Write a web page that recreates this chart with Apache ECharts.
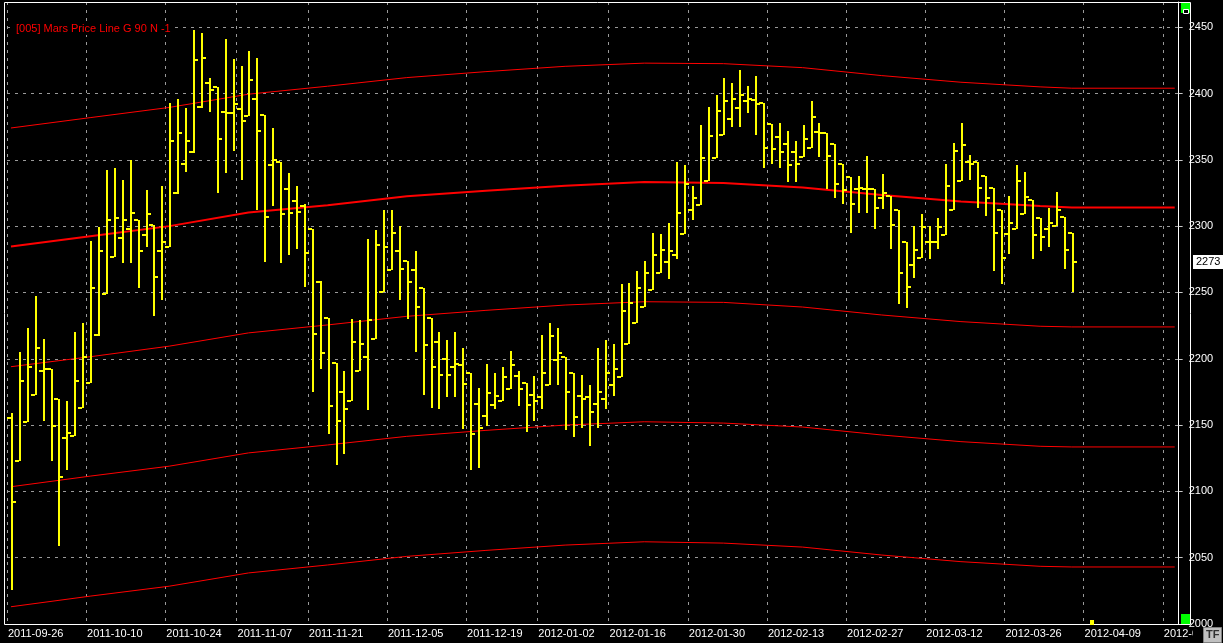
<!DOCTYPE html>
<html><head><meta charset="utf-8">
<script src="https://cdn.jsdelivr.net/npm/echarts@6/dist/echarts.min.js"></script>
<style>html,body{margin:0;padding:0;background:#000;}#c{width:1223px;height:643px;}</style>
</head><body><div id="c"></div>
<script>
// ---- axis data ----
const startDate = '2011-09-26';
const endDate = '2012-04-24';
const holidays = ['2011-10-31','2011-11-11','2011-12-26','2012-01-02'];
const tickLabels = ['2011-09-26','2011-10-10','2011-10-24','2011-11-07','2011-11-21','2011-12-05',
  '2011-12-19','2012-01-02','2012-01-16','2012-01-30','2012-02-13','2012-02-27','2012-03-12',
  '2012-03-26','2012-04-09','2012-04-23'];
const yTicks = [2000, 2469, 50];

// ---- OHLC series values (one per trading bar) ----
const opens = [2155,2123,2152,2173,2191,2192,2170,2140,2142,2163,2182,2218,2249,2277,2291,2298,2305,2293,2301,2281,
  2284,2325,2347,2356,2390,2408,2405,2386,2385,2388,2383,2396,2384,2346,2348,2328,2319,2315,2298,2258,
  2231,2197,2175,2168,2191,2201,2215,2250,2267,2281,2274,2267,2253,2231,2213,2200,2194,2195,2189,2166,
  2157,2165,2168,2177,2187,2182,2173,2171,2180,2199,2201,2189,2172,2171,2166,2170,2180,2186,2211,2227,
  2239,2252,2265,2273,2278,2294,2312,2316,2334,2351,2369,2381,2389,2394,2395,2393,2377,2367,2362,2356,
  2352,2359,2371,2370,2362,2347,2337,2328,2328,2328,2321,2323,2312,2288,2271,2276,2288,2288,2293,2312,
  2334,2348,2348,2338,2329,2312,2294,2298,2309,2320,2306,2298,2300,2307,2295];
const highs = [2159,2205,2223,2247,2215,2192,2170,2168,2220,2227,2289,2299,2342,2344,2335,2350,2305,2327,2301,2330,
  2393,2396,2389,2448,2446,2412,2405,2441,2426,2421,2432,2427,2384,2374,2348,2340,2330,2317,2298,2259,
  2231,2197,2191,2230,2229,2290,2297,2312,2312,2300,2274,2281,2253,2231,2220,2214,2220,2208,2189,2178,
  2196,2189,2194,2206,2191,2182,2187,2218,2227,2223,2201,2189,2188,2180,2208,2214,2211,2256,2257,2266,
  2274,2295,2294,2302,2348,2346,2330,2376,2390,2399,2412,2408,2418,2406,2413,2393,2377,2378,2372,2364,
  2376,2394,2378,2370,2362,2347,2337,2338,2353,2328,2339,2323,2312,2288,2300,2309,2300,2306,2347,2363,
  2378,2354,2348,2338,2329,2312,2323,2346,2341,2320,2306,2314,2326,2307,2295];
const lows = [2026,2123,2152,2173,2153,2123,2059,2116,2142,2163,2182,2217,2249,2277,2272,2272,2253,2284,2232,2244,
  2284,2324,2341,2355,2389,2386,2325,2340,2357,2335,2383,2312,2273,2315,2272,2278,2283,2254,2175,2192,
  2143,2120,2128,2168,2191,2161,2215,2250,2267,2244,2230,2205,2173,2163,2162,2171,2171,2147,2116,2118,
  2149,2162,2168,2177,2164,2145,2153,2162,2180,2180,2146,2141,2148,2134,2148,2162,2172,2186,2211,2227,
  2239,2252,2265,2260,2275,2294,2305,2316,2334,2351,2369,2375,2375,2385,2369,2344,2347,2344,2333,2333,
  2352,2359,2352,2328,2321,2317,2295,2310,2310,2298,2313,2283,2241,2238,2261,2276,2275,2283,2293,2312,
  2334,2335,2314,2308,2266,2256,2279,2298,2309,2275,2281,2284,2300,2268,2250];
const closes = [2092,2183,2194,2208,2192,2149,2111,2144,2183,2201,2253,2281,2305,2306,2305,2310,2281,2309,2262,2288,
  2364,2370,2364,2425,2427,2403,2366,2385,2392,2379,2410,2372,2307,2350,2309,2310,2311,2280,2219,2204,
  2164,2153,2162,2213,2211,2229,2286,2284,2295,2268,2258,2239,2210,2194,2188,2188,2196,2181,2143,2148,
  2174,2172,2186,2195,2177,2165,2168,2189,2217,2204,2175,2156,2170,2160,2175,2189,2192,2236,2242,2253,
  2265,2278,2282,2281,2310,2332,2321,2351,2368,2387,2394,2396,2399,2396,2392,2359,2358,2356,2346,2347,
  2366,2382,2370,2353,2332,2327,2317,2329,2328,2314,2325,2301,2265,2254,2282,2299,2288,2299,2330,2357,
  2361,2347,2329,2321,2295,2276,2302,2334,2322,2293,2292,2302,2312,2282,2273];

// ---- Mars price lines (sampled at bar indices) ----
const lineIdx   = [0,10,20,30,40,50,60,70,80,90,100,110,120,130,134,147];
const lineUp1   = [2374,2381.8,2389.5,2399.5,2405.5,2412,2416.5,2420.5,2422.9,2422.5,2419.5,2413.5,2408.5,2405,2404,2404];
const lineMid   = [2284.7,2292.4,2300,2310.2,2315.8,2322.5,2326.6,2330.5,2333.2,2332.5,2329.2,2323.5,2318.6,2315.1,2314.1,2314.1];
const lineDn1   = [2194,2201.5,2209.5,2219.5,2225.5,2232,2236.5,2240.5,2243,2242.5,2239,2233,2228,2224.5,2224,2224];
const lineDn2   = [2103.5,2111.5,2119,2129,2135,2141.5,2146,2150,2152.5,2151.5,2148.5,2142.5,2137.5,2134,2133.5,2133.5];
const lineDn3   = [2013,2021,2028.5,2038.5,2044.5,2051,2055.5,2059.5,2062,2061,2058,2052,2047,2043.5,2043,2043];

const titleText = '[005] Mars Price Line G 90 N -1';

// ---- build categories (trading days) ----
function fmt(d){ return d.toISOString().slice(0,10); }
const categories = [], weekStart = [];
for (let d = new Date(startDate + 'T00:00:00Z'); fmt(d) <= endDate; d.setUTCDate(d.getUTCDate()+1)) {
  const wd = d.getUTCDay();
  if (wd === 0 || wd === 6) continue;
  const s = fmt(d);
  if (holidays.includes(s)) continue;
  const m = new Date(d); m.setUTCDate(m.getUTCDate() - (wd - 1));
  categories.push(s); weekStart.push(fmt(m));
}
const labelAt = new Set();
const seenWeek = new Set();
categories.forEach((c, i) => {
  const w = weekStart[i];
  if (!seenWeek.has(w)) { seenWeek.add(w); if (tickLabels.includes(w)) labelAt.add(i); }
});

const ohlc = opens.map((o, i) => [i, o, highs[i], lows[i], closes[i]]);
const mk = arr => lineIdx.map((x, i) => [x, arr[i]]);
const lastClose = closes[closes.length - 1];

const FONT = 'Liberation Sans';
const chart = echarts.init(document.getElementById('c'), null, {renderer: 'canvas'});
const redLine = (name, arr, w) => ({
  type: 'line', name, data: mk(arr), showSymbol: false, symbol: 'none', silent: true,
  lineStyle: {color: '#ff0000', width: w}, z: 3, animation: false
});

chart.setOption({
  backgroundColor: '#000000',
  animation: false,
  grid: {left: 7, right: 32, top: 2, bottom: 19, containLabel: false},
  xAxis: {
    type: 'category', data: categories, boundaryGap: true,
    axisLine: {show: true, lineStyle: {color: '#ffffff', width: 1}},
    axisTick: {show: false},
    axisLabel: {
      interval: (i) => labelAt.has(i), formatter: (v, i) => weekStart[i],
      color: '#ffffff', fontSize: 11, fontFamily: FONT, align: 'left', margin: 4,
      padding: [0, 0, 0, -3]
    },
    splitLine: {show: true, interval: (i) => labelAt.has(i),
      lineStyle: {color: '#9a9a9a', type: [3, 5], width: 1}}
  },
  yAxis: {
    type: 'value', position: 'right', min: yTicks[0], max: yTicks[1], interval: yTicks[2],
    axisLine: {show: true, lineStyle: {color: '#ffffff'}},
    axisTick: {show: true, length: 4, lineStyle: {color: '#c8c8c8'}},
    axisLabel: {color: '#ffffff', fontSize: 11, fontFamily: FONT, margin: 10,
      showMaxLabel: false, formatter: v => String(v)},
    splitLine: {show: true, lineStyle: {color: '#9a9a9a', type: [3, 5], width: 1}}
  },
  series: [
    redLine('up1', lineUp1, 1),
    redLine('mid', lineMid, 2),
    redLine('dn1', lineDn1, 1),
    redLine('dn2', lineDn2, 1),
    redLine('dn3', lineDn3, 1),
    {
      type: 'custom', name: 'price', data: ohlc, z: 4, animation: false,
      encode: {x: 0, y: [1, 2, 3, 4]},
      renderItem: function (params, api) {
        const i = api.value(0);
        const o = api.coord([i, api.value(1)]);
        const h = api.coord([i, api.value(2)]);
        const l = api.coord([i, api.value(3)]);
        const c = api.coord([i, api.value(4)]);
        const cx = Math.round(o[0]);
        const col = '#ffff00';
        const hy = Math.round(h[1]), ly = Math.round(l[1]);
        return {type: 'group', children: [
          {type: 'rect', shape: {x: cx, y: hy, width: 2, height: Math.max(2, ly - hy)}, style: {fill: col}},
          {type: 'rect', shape: {x: cx - 4, y: Math.round(o[1]) - 1, width: 4, height: 2}, style: {fill: col}},
          {type: 'rect', shape: {x: cx + 2, y: Math.round(c[1]) - 1, width: 3, height: 2}, style: {fill: col}}
        ]};
      }
    }
  ]
});

// last-price tag and decorations, placed through the axis scale
const py = Math.round(chart.convertToPixel({yAxisIndex: 0}, lastClose));
chart.setOption({
  graphic: [
    {type: 'rect', z: 100, shape: {x: 4.5, y: 2.5, width: 1186, height: 622}, style: {fill: 'none', stroke: '#ffffff', lineWidth: 1}},
    {type: 'text', z: 100, left: 15, top: 22, style: {text: titleText, fill: '#ff0000', font: '11px "Liberation Sans"', backgroundColor: '#000000', padding: [1, 1]}},
    {type: 'rect', z: 100, shape: {x: 1181, y: 3, width: 9, height: 10}, style: {fill: '#00ff00'}},
    {type: 'rect', z: 101, shape: {x: 1183.5, y: 9.5, width: 5, height: 4}, style: {fill: '#000', stroke: '#ffffff', lineWidth: 1}},
    {type: 'rect', z: 100, shape: {x: 1181, y: 614, width: 9, height: 10}, style: {fill: '#00ff00'}},
    {type: 'rect', z: 100, shape: {x: 1090, y: 620, width: 4, height: 5}, style: {fill: '#ffff00'}},
    {type: 'rect', z: 100, shape: {x: 1193, y: 628, width: 30, height: 15}, style: {fill: '#000000'}},
    {type: 'rect', z: 101, shape: {x: 1203.5, y: 627.5, width: 18, height: 15}, style: {fill: '#c0c0c0', stroke: '#808080', lineWidth: 1}},
    {type: 'text', z: 102, left: 1206, top: 629, style: {text: 'TF', fill: '#303030', font: 'bold 11px "Liberation Sans"'}},
    {type: 'rect', z: 100, shape: {x: 1193, y: py - 7, width: 30, height: 14}, style: {fill: '#ffffff'}},
    {type: 'text', z: 101, x: 1196, y: py, style: {text: String(Math.round(lastClose)), fill: '#000000', font: '11px "Liberation Sans"', verticalAlign: 'middle'}}
  ]
});
</script></body></html>
